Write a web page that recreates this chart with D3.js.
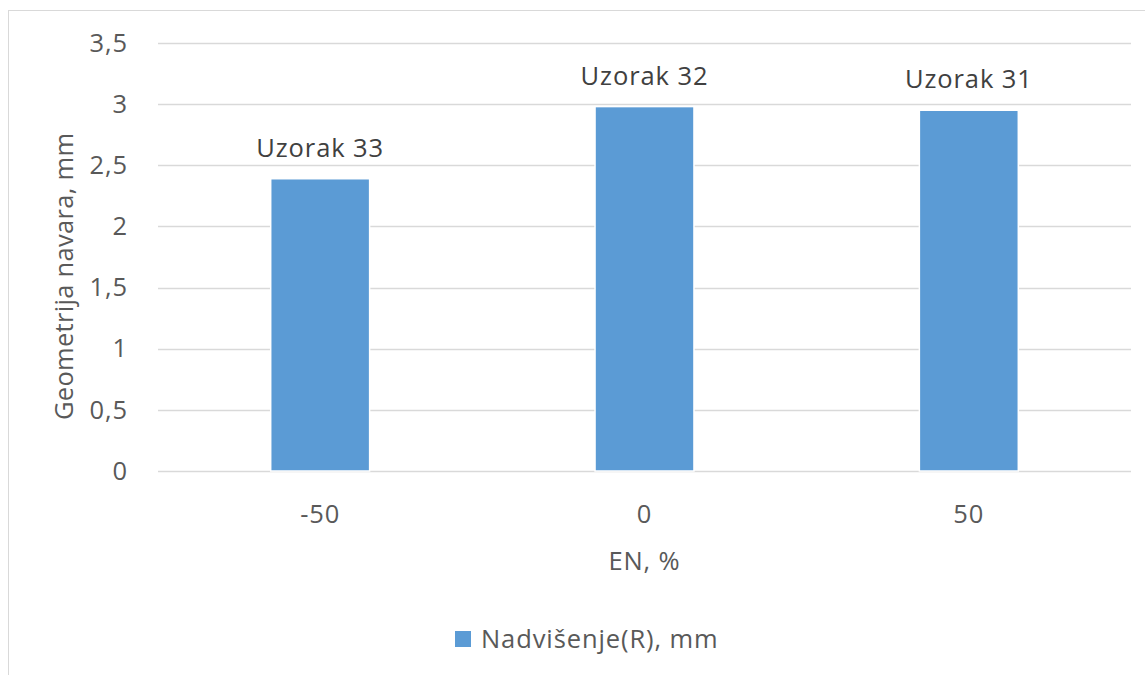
<!DOCTYPE html>
<html>
<head>
<meta charset="utf-8">
<script src="https://cdn.jsdelivr.net/npm/d3@7"></script>
<style>
  html, body { margin: 0; padding: 0; background: #fff; }
  svg text { font-family: "Open Sans", "Noto Sans", sans-serif; }
</style>
</head>
<body>
<svg id="chart" width="1145" height="675"></svg>
<script>
// Weld reinforcement height per EN setting
const categories = ["-50", "0", "50"];
const values = [2.39, 2.98, 2.95];
const sampleLabels = ["Uzorak 33", "Uzorak 32", "Uzorak 31"];
const yTicks = [0, 0.5, 1, 1.5, 2, 2.5, 3, 3.5];
const seriesName = "Nadvišenje(R), mm";

const FS = 25.5;
const LS = "0.9px";
const svg = d3.select("#chart");
const W = 1145, H = 675;
const plot = { left: 158, right: 1131, top: 43, bottom: 471 };

// outer chart frame
svg.append("rect")
  .attr("x", 8.5).attr("y", 10.5)
  .attr("width", W).attr("height", H)
  .attr("fill", "#fff").attr("stroke", "#d9d9d9").attr("stroke-width", 1);

const x = d3.scaleBand().domain(categories)
  .range([plot.left, plot.right]).paddingInner(0.695).paddingOuter(0.3475);
const y = d3.scaleLinear().domain([0, 3.5]).range([plot.bottom, plot.top]);

// gridlines
svg.append("g").selectAll("line").data(yTicks).join("line")
  .attr("x1", plot.left).attr("x2", plot.right)
  .attr("y1", d => Math.round(y(d)) + 0.5).attr("y2", d => Math.round(y(d)) + 0.5)
  .attr("stroke", "#d9d9d9").attr("stroke-width", 1.3);

// y axis tick labels
const fmt = d => String(d).replace(".", ",");
const yAxis = d3.axisLeft(y).tickValues(yTicks).tickFormat(fmt).tickSize(0).tickPadding(0);
const gy = svg.append("g").attr("transform", `translate(${plot.left - 30},0)`).call(yAxis);
gy.select(".domain").remove();
gy.selectAll("text").attr("font-size", FS).attr("fill", "#595959")
  .style("font-family", '"Open Sans", sans-serif').style("letter-spacing", LS);

// bars
svg.append("g").selectAll("rect").data(values).join("rect")
  .attr("x", (d, i) => x(categories[i]))
  .attr("y", d => y(d))
  .attr("width", x.bandwidth())
  .attr("height", d => y(0) - y(d))
  .attr("fill", "#5b9bd5").attr("stroke", "#fff").attr("stroke-width", 1.5);

// data labels
svg.append("g").selectAll("text").data(values).join("text")
  .attr("x", (d, i) => x(categories[i]) + x.bandwidth() / 2)
  .attr("y", d => y(d) - 22)
  .attr("text-anchor", "middle")
  .attr("font-size", FS).attr("fill", "#404040").style("letter-spacing", LS)
  .text((d, i) => sampleLabels[i]);

// x axis tick labels
const xAxis = d3.axisBottom(x).tickSize(0).tickPadding(0);
const gx = svg.append("g").attr("transform", `translate(0,${plot.bottom})`).call(xAxis);
gx.select(".domain").remove();
gx.selectAll("text").attr("font-size", FS).attr("fill", "#595959")
  .attr("dy", null).attr("y", 52)
  .style("font-family", '"Open Sans", sans-serif').style("letter-spacing", LS);

// axis titles
svg.append("text")
  .attr("x", (plot.left + plot.right) / 2).attr("y", 570)
  .attr("text-anchor", "middle").attr("font-size", FS).attr("fill", "#595959")
  .style("letter-spacing", LS)
  .text("EN, %");
svg.append("text")
  .attr("transform", "translate(73,420) rotate(-90)")
  .attr("text-anchor", "start").attr("font-size", FS).attr("fill", "#595959")
  .style("letter-spacing", "0.3px")
  .text("Geometrija navara, mm");

// legend
const lg = svg.append("g").attr("transform", "translate(455,631)");
lg.append("rect").attr("x", 0).attr("y", 0).attr("width", 16).attr("height", 16).attr("fill", "#5b9bd5");
lg.append("text").attr("x", 26).attr("y", 17).attr("font-size", FS).attr("fill", "#595959")
  .style("letter-spacing", LS)
  .text(seriesName);
</script>
</body>
</html>
